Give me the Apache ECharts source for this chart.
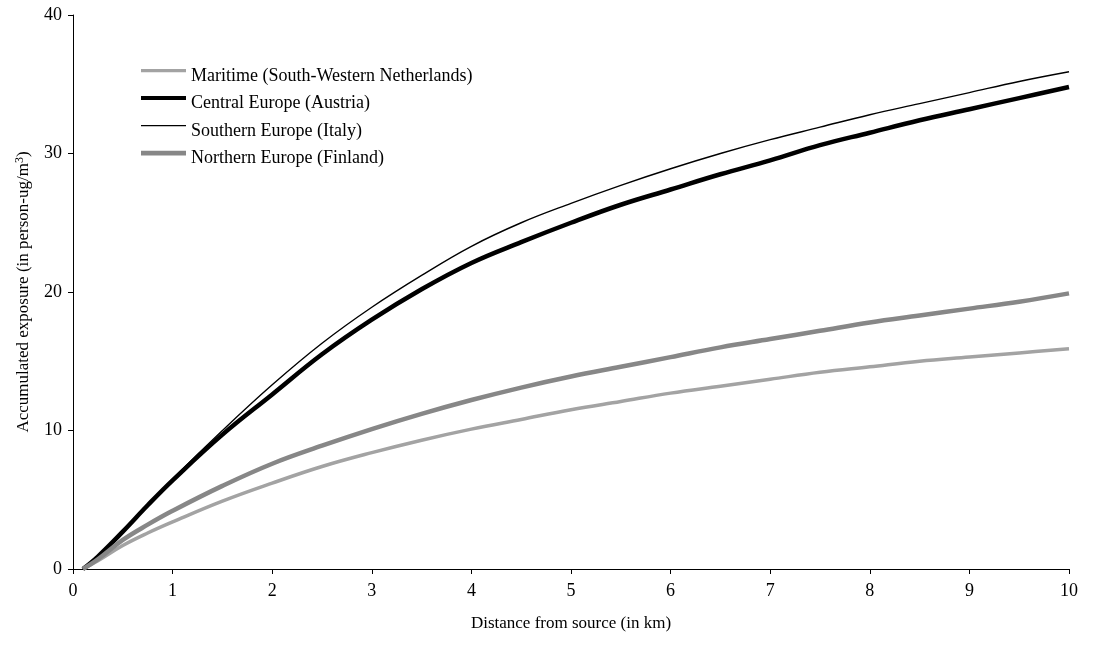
<!DOCTYPE html>
<html>
<head>
<meta charset="utf-8">
<script src="https://cdn.jsdelivr.net/npm/echarts@6/dist/echarts.min.js"></script>
<style>
  html, body { margin: 0; padding: 0; background: #fff; }
  #chart { width: 1093px; height: 648px; }
</style>
</head>
<body>
<div id="chart"></div>
<script>
// Distance from source (km)
const distance = [0.1, 0.25, 0.5, 0.75, 1, 1.5, 2, 2.5, 3, 3.5, 4, 4.5, 5, 5.5, 6, 6.5, 7, 7.5, 8, 8.5, 9, 9.5, 10];

// Accumulated exposure (person-ug/m3) per climate region
const maritime = [0, 0.6, 1.7, 2.6, 3.4, 4.9, 6.2, 7.4, 8.4, 9.3, 10.1, 10.8, 11.5, 12.1, 12.7, 13.2, 13.7, 14.2, 14.6, 15.0, 15.3, 15.6, 15.9];
const centralEurope = [0, 0.9, 2.7, 4.6, 6.4, 9.7, 12.6, 15.5, 18.0, 20.2, 22.1, 23.6, 25.0, 26.3, 27.4, 28.5, 29.5, 30.6, 31.5, 32.4, 33.2, 34.0, 34.8];
const southernEurope = [0, 0.9, 2.7, 4.6, 6.5, 10.0, 13.3, 16.3, 18.9, 21.2, 23.3, 25.0, 26.4, 27.7, 28.9, 30.0, 31.0, 31.9, 32.8, 33.6, 34.4, 35.2, 35.9];
const northernEurope = [0, 0.7, 2.1, 3.2, 4.2, 6.0, 7.6, 8.9, 10.1, 11.2, 12.2, 13.1, 13.9, 14.6, 15.3, 16.0, 16.6, 17.2, 17.8, 18.3, 18.8, 19.3, 19.9];

const seriesNames = [
  'Maritime (South-Western Netherlands)',
  'Central Europe (Austria)',
  'Southern Europe (Italy)',
  'Northern Europe (Finland)'
];

const xTicks = [0, 1, 2, 3, 4, 5, 6, 7, 8, 9, 10];
const yTicks = [0, 10, 20, 30, 40];

const FONT = '"Liberation Serif", "Times New Roman", serif';

// line look per region: colour, stroke width, legend key thickness
const styles = [
  { color: '#a3a3a3', width: 3.5, key: 3.4 },
  { color: '#000000', width: 4.5, key: 4.0 },
  { color: '#000000', width: 1.4, key: 1.4 },
  { color: '#878787', width: 4.5, key: 4.6 }
];

function pairs(ys) {
  return distance.map((d, i) => [d, ys[i]]);
}

function lineSeries(idx, ys) {
  const s = styles[idx];
  return {
    name: seriesNames[idx],
    type: 'line',
    data: pairs(ys),
    smooth: 0.4,
    showSymbol: false,
    symbol: 'none',
    lineStyle: { color: s.color, width: s.width },
    itemStyle: { color: s.color },
    emphasis: { disabled: true }
  };
}

// Legend key: a bar of the given thickness sitting a little above the text middle.
// Two specks at the corners pin the path box to KEY_W x KEY_H so the bar keeps its place.
const KEY_W = 45, KEY_H = 16, KEY_MID = 2.6;
function keyPath(t) {
  const y0 = (KEY_MID - t / 2).toFixed(2), y1 = (KEY_MID + t / 2).toFixed(2);
  return 'path://M0,0 h0.02 v0.02 h-0.02 Z ' +
    'M0,' + y0 + ' L' + KEY_W + ',' + y0 + ' L' + KEY_W + ',' + y1 + ' L0,' + y1 + ' Z ' +
    'M' + (KEY_W - 0.02) + ',' + (KEY_H - 0.02) + ' h0.02 v0.02 h-0.02 Z';
}

// one legend row per region, so each key can carry its own stroke thickness
const legendTops = [62, 89.5, 117, 144.5];
const legends = seriesNames.map((name, i) => ({
  show: true,
  orient: 'vertical',
  left: 136,
  top: legendTops[i],
  itemWidth: KEY_W,
  itemHeight: KEY_H,
  symbolKeepAspect: false,
  selectedMode: false,
  textStyle: { fontFamily: FONT, fontSize: 18, color: '#000' },
  data: [{ name: name, icon: keyPath(styles[i].key) }]
}));

const chart = echarts.init(document.getElementById('chart'));
chart.setOption({
  animation: false,
  backgroundColor: '#ffffff',
  grid: { left: 73, right: 24, top: 15, bottom: 79, containLabel: false },
  legend: legends,
  xAxis: {
    type: 'value',
    min: xTicks[0],
    max: xTicks[xTicks.length - 1],
    interval: 1,
    name: 'Distance from source (in km)',
    nameLocation: 'middle',
    nameGap: 46,
    nameTextStyle: { fontFamily: FONT, fontSize: 17, color: '#000' },
    axisLine: { show: true, lineStyle: { color: '#000', width: 1 } },
    axisTick: { show: true, inside: false, length: 5, lineStyle: { color: '#000' } },
    axisLabel: { fontFamily: FONT, fontSize: 18, color: '#000', margin: 13 },
    splitLine: { show: false }
  },
  yAxis: {
    type: 'value',
    min: yTicks[0],
    max: yTicks[yTicks.length - 1],
    interval: 10,
    name: '{n|Accumulated exposure (in person-ug/m}{sup|3}{n|)}',
    nameLocation: 'middle',
    nameGap: 40,
    nameTextStyle: {
      fontFamily: FONT, fontSize: 17, color: '#000',
      rich: {
        n: { fontFamily: FONT, fontSize: 17, color: '#000' },
        sup: { fontFamily: FONT, fontSize: 12, color: '#000', verticalAlign: 'top', padding: [0, 0, 7, 0] }
      }
    },
    axisLine: { show: true, lineStyle: { color: '#000', width: 1 } },
    axisTick: { show: true, inside: false, length: 5, lineStyle: { color: '#000' } },
    axisLabel: { fontFamily: FONT, fontSize: 18, color: '#000', margin: 11 },
    splitLine: { show: false }
  },
  series: [
    lineSeries(0, maritime),
    lineSeries(1, centralEurope),
    lineSeries(2, southernEurope),
    lineSeries(3, northernEurope)
  ]
});
</script>
</body>
</html>
